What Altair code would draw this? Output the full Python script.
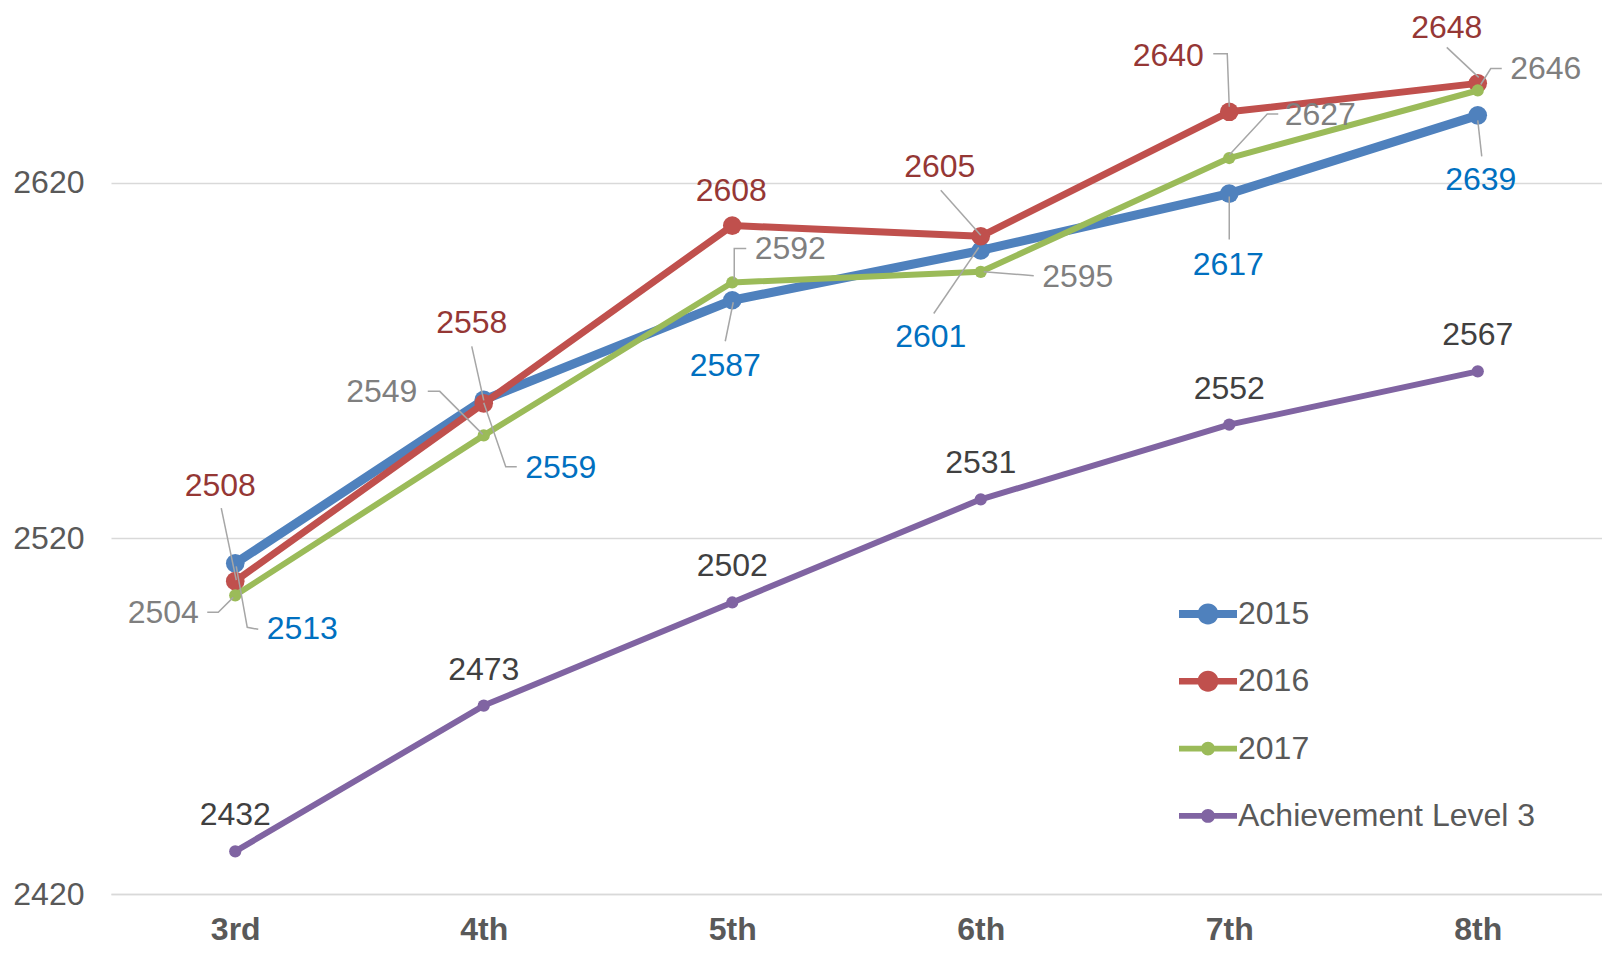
import json
import altair as alt
import pandas as pd

# ---------------- data ----------------
grades = ["3rd", "4th", "5th", "6th", "7th", "8th"]
series_names = ["2015", "2016", "2017", "Achievement Level 3"]
scores_2015 = [2513, 2559, 2587, 2601, 2617, 2639]
scores_2016 = [2508, 2558, 2608, 2605, 2640, 2648]
scores_2017 = [2504, 2549, 2592, 2595, 2627, 2646]
scores_level3 = [2432, 2473, 2502, 2531, 2552, 2567]
y_ticks = [2420, 2520, 2620]
all_scores = [scores_2015, scores_2016, scores_2017, scores_level3]

# ---------------- styles ----------------
FONT = "Liberation Sans"
line_colors = ["#4F81BD", "#C0504D", "#9BBB59", "#8064A2"]
label_colors = ["#0070C0", "#953735", "#7F7F7F", "#404040"]
line_widths = [9, 7, 6, 6]
marker_sizes = [346, 346, 150, 150]

W, H = 1491, 886
Y_MIN, Y_MAX = 2420, 2669.2
STEP = W / len(grades)          # pixels per category
PXU = H / (Y_MAX - Y_MIN)       # pixels per score unit

# label centre offsets from the point (pixels, +y = down)
label_offsets = [
    [(67, 66), (77, 68), (-7, 66), (-50, 87), (-1, 71), (3, 65)],
    [(-15, -95), (-12, -80), (-1, -35), (-41, -69), (-61, -56), (-31, -55)],
    [(-72, 18), (-102, -43), (58, -33), (97, 5), (91, -43), (68, -21)],
    [(0, -36)] * 6,
]
# leader-line paths, offsets from the point (pixels)
leader_paths = [
    [[(1, 3), (12, 64), (23, 66)], [(0, 3), (22, 67), (33, 67)], [(1, 2), (-7, 41)],
     [(-2, -3), (-47, 63)], [(0, 3), (0, 46)], [(0, 5), (4, 41)]],
    [[(1, -1), (-14, -73)], [(0, -3), (-12, -57)], None,
     [(0, -1), (-40, -46)], [(0, -5), (-2, -58), (-16, -58)], [(1, -6), (-31, -36)]],
    [[(-2, 2), (-17, 17), (-28, 17)], [(-1, -1), (-44, -44), (-56, -44)], [(2, -3), (2, -34), (14, -34)],
     [(3, 0), (42, 3), (53, 4)], [(0, -3), (38, -44), (49, -44)], [(3, -6), (13, -22), (24, -22)]],
    [None] * 6,
]

# legend symbols: line + marker (unit coords, -1..1 = symbol width)
def legend_path(half_thick, r):
    return (f"M-1,{-half_thick}L1,{-half_thick}L1,{half_thick}L-1,{half_thick}Z"
            f"M{r},0A{r},{r} 0 1,1 {-r},0A{r},{r} 0 1,1 {r},0Z")

LEG_SIZE = 3364
legend_paths = [legend_path(0.14, 0.36), legend_path(0.11, 0.36),
                legend_path(0.1, 0.24), legend_path(0.1, 0.24)]

# ---------------- tables ----------------
rows = []
for s, vals in zip(series_names, all_scores):
    for i, v in enumerate(vals):
        rows.append({"series": s, "idx": i, "grade": grades[i], "score": v})
df = pd.DataFrame(rows)

lab_rows, lead_rows = [], []
for k, (s, vals) in enumerate(zip(series_names, all_scores)):
    for i, v in enumerate(vals):
        dx, dy = label_offsets[k][i]
        lab_rows.append({"series": s, "text": str(v),
                         "lx": i + dx / STEP, "ly": v - dy / PXU})
        path = leader_paths[k][i]
        if path:
            for o, (px, py) in enumerate(path):
                lead_rows.append({"lid": f"{s}-{i}", "ord": o,
                                  "lx": i + px / STEP, "ly": v - py / PXU})
labels = pd.DataFrame(lab_rows)
leads = pd.DataFrame(lead_rows)

label_expr = json.dumps(grades) + "[datum.value]"
xscale = alt.Scale(domain=[-0.5, len(grades) - 0.5], nice=False, zero=False)
yscale = alt.Scale(domain=[Y_MIN, Y_MAX], nice=False, zero=False)

x_axis = alt.Axis(values=list(range(len(grades))), labelExpr=label_expr, title=None,
                  grid=False, domain=True, domainColor="#D9D9D9", domainWidth=1.5,
                  ticks=False, tickSize=0, labelFontSize=32, labelFont=FONT,
                  labelFontWeight="bold", labelColor="#595959", labelPadding=20)
y_axis = alt.Axis(values=y_ticks, format="d", title=None, grid=True, gridColor="#D9D9D9",
                  gridWidth=1.5, domain=False, ticks=False, tickSize=0, labelFontSize=32,
                  labelFont=FONT, labelColor="#595959", labelPadding=27)


def X(field):
    return alt.X(field, scale=xscale, axis=x_axis)


def Y(field):
    return alt.Y(field, scale=yscale, axis=y_axis)


layers = []
for k, s in enumerate(series_names):
    sub = df[df.series == s]
    line = alt.Chart(sub).mark_line(
        color=line_colors[k], strokeWidth=line_widths[k], strokeCap="round", strokeJoin="round"
    ).encode(x=X("idx:Q"), y=Y("score:Q"))
    pts = alt.Chart(sub).mark_point(
        filled=True, opacity=1, color=line_colors[k], size=marker_sizes[k], shape="circle", strokeWidth=0
    ).encode(x=X("idx:Q"), y=Y("score:Q"))
    layers += [line, pts]

leader_layer = alt.Chart(leads).mark_line(color="#A6A6A6", strokeWidth=1.5).encode(
    x=X("lx:Q"), y=Y("ly:Q"), detail="lid:N", order="ord:Q",
)
layers.append(leader_layer)

for k, s in enumerate(series_names):
    t = alt.Chart(labels[labels.series == s]).mark_text(
        fontSize=32, font=FONT, align="center", baseline="middle", color=label_colors[k]
    ).encode(x=X("lx:Q"), y=Y("ly:Q"), text="text:N")
    layers.append(t)

leg = alt.Legend(title=None, orient="none", legendX=1068, legendY=577, padding=0,
                 labelFontSize=32, labelFont=FONT, labelColor="#595959", labelLimit=600,
                 symbolSize=LEG_SIZE, symbolStrokeWidth=0, rowPadding=22.3, labelOffset=1)
legend_layer = alt.Chart(df).transform_filter("false").mark_point(
    filled=True, opacity=1, size=LEG_SIZE, strokeWidth=0
).encode(
    x=X("idx:Q"), y=Y("score:Q"),
    color=alt.Color("series:N", scale=alt.Scale(domain=series_names, range=line_colors), legend=leg),
    shape=alt.Shape("series:N", scale=alt.Scale(domain=series_names, range=legend_paths), legend=leg),
)
layers.append(legend_layer)

chart = alt.layer(*layers).properties(
    width=W, height=H, background="white",
    autosize=alt.AutoSizeParams(type="none"),
    padding={"left": 103, "top": 0, "right": 0, "bottom": 53},
).configure_view(stroke="transparent", strokeWidth=0)

chart.save("out.html", embed_options={"renderer": "svg", "actions": False})
